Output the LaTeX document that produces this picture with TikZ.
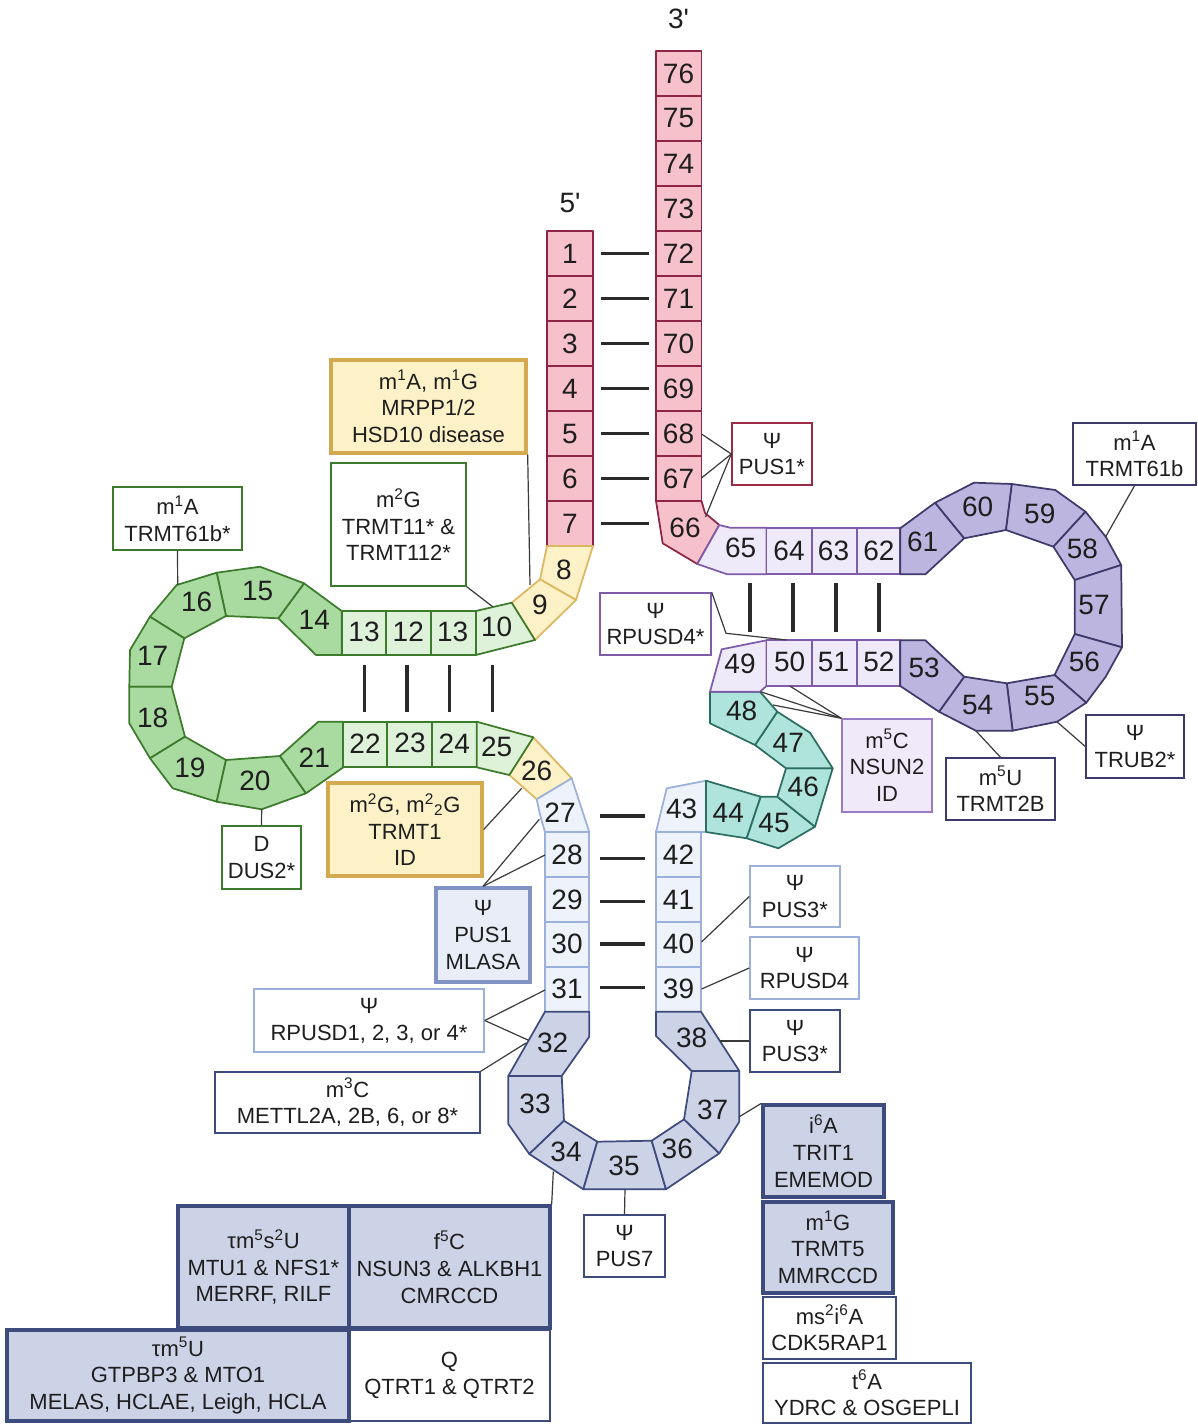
\documentclass[tikz,border=0pt]{standalone}
\usepackage{fontspec}
\setmainfont{Liberation Sans}
\newcommand\numf{\fontsize{21}{24}\selectfont}
\newcommand\annf{\fontsize{16.5}{20}\selectfont}
\definecolor{txt}{HTML}{1E1E1E}
\definecolor{accF}{HTML}{F7C1CB}
\definecolor{accB}{HTML}{8E2446}
\definecolor{yelF}{HTML}{FDF1C8}
\definecolor{yelB}{HTML}{DDB760}
\definecolor{yelK}{HTML}{D3AA50}
\definecolor{dsF}{HTML}{DEF2DA}
\definecolor{dlF}{HTML}{A9DBA1}
\definecolor{dB}{HTML}{3D7B2C}
\definecolor{asF}{HTML}{EDF2FB}
\definecolor{asB}{HTML}{9BB0DA}
\definecolor{alF}{HTML}{CCD3E7}
\definecolor{alB}{HTML}{3E4B7D}
\definecolor{vF}{HTML}{AEE4DB}
\definecolor{vB}{HTML}{2D6E63}
\definecolor{tsF}{HTML}{EFEAF9}
\definecolor{tsB}{HTML}{7F5BAA}
\definecolor{tlF}{HTML}{BCB5DF}
\definecolor{tlB}{HTML}{3E3A6B}
\definecolor{bpC}{HTML}{2A2A2A}
\definecolor{ldC}{HTML}{3A3A3A}
\definecolor{mF}{HTML}{E8EDF8}
\definecolor{mB}{HTML}{8093C4}
\definecolor{pB}{HTML}{9B7BC8}
\definecolor{pF}{HTML}{F0E9FA}
\definecolor{rB}{HTML}{9B2A45}
\tikzset{
  sg/.style={line width=1.3pt, line join=round},
  acc/.style={sg, draw=accB, fill=accF},
  yel/.style={sg, draw=yelB, fill=yelF},
  dst/.style={sg, draw=dB, fill=dsF},
  dlp/.style={sg, draw=dB, fill=dlF},
  ast/.style={sg, draw=asB, fill=asF},
  alp/.style={sg, draw=alB, fill=alF},
  vlp/.style={sg, draw=vB, fill=vF},
  tst/.style={sg, draw=tsB, fill=tsF},
  tlp/.style={sg, draw=tlB, fill=tlF},
  num/.style={font=\numf, inner sep=0pt, text=txt},
  bp/.style={line width=2.3pt, draw=bpC},
  lead/.style={line width=0.9pt, draw=ldC},
  ann/.style={draw, line width=1.1pt, fill=white, align=center, inner sep=0pt, font=\annf, text=txt},
  annk/.style={ann, line width=2.5pt},
}
\begin{document}
\begin{tikzpicture}[x=0.75pt,y=-0.75pt]
\useasboundingbox (0,0) rectangle (1198,1424);

% ---------- acceptor stem ----------
\foreach \i in {0,...,6}{
  \draw[acc] (547,{231+45*\i}) rectangle (593,{276+45*\i});
}
\foreach \i in {0,...,9}{
  \draw[acc] (656,{51+45*\i}) rectangle (701.5,{96+45*\i});
}
\draw[acc] (656,501) -- (701.5,501) -- (705,513) -- (719.3,525) -- (697.3,564) -- (662.7,543.3) -- cycle;
\foreach \i in {0,...,6}{
  \draw[bp] (601,{253.5+45*\i}) -- (649,{253.5+45*\i});
}

% ---------- junction (yellow) ----------
\draw[yel] (547,546) -- (593,546) -- (576,600) -- (540,579.3) -- cycle;
\draw[yel] (540,579.3) -- (576,600) -- (535,640) -- (511.7,602.7) -- cycle;
\draw[yel] (533.3,737.3) -- (571.7,778.3) -- (536.7,799.3) -- (509.3,775) -- cycle;

% ---------- D arm ----------
\draw[dst] (475.7,611) -- (511.7,602.7) -- (535,640) -- (475.7,655) -- cycle;
\draw[dst] (341.7,611) rectangle (386,655);
\draw[dst] (386,611) rectangle (430.7,655);
\draw[dst] (430.7,611) rectangle (475.7,655);
\draw[dlp] (341.7,611) -- (304,583.3) -- (278.3,618.3) -- (316,655) -- (341.7,655) -- cycle;
\draw[dlp] (304,583.3) -- (260,566.7) -- (216.7,572.7) -- (226,616) -- (278.3,618.3) -- cycle;
\draw[dlp] (216.7,572.7) -- (176.7,585) -- (150,616.7) -- (184.3,638.3) -- (226,616) -- cycle;
\draw[dlp] (150,616.7) -- (130,650) -- (129.3,686.7) -- (171.7,686.7) -- (184.3,638.3) -- cycle;
\draw[dlp] (129.3,686.7) -- (129.3,723.3) -- (150,758.3) -- (185,736.7) -- (171.7,686.7) -- cycle;
\draw[dlp] (150,758.3) -- (172.7,788.3) -- (216.7,801.7) -- (226,760) -- (185,736.7) -- cycle;
\draw[dlp] (216.7,801.7) -- (261.7,809.3) -- (306,793.3) -- (280,756) -- (226,760) -- cycle;
\draw[dlp] (280,756) -- (306,793.3) -- (343.3,767.3) -- (343.3,721.7) -- (318.3,721.7) -- cycle;
\draw[dst] (343.3,721.7) rectangle (387.3,767.3);
\draw[dst] (387.3,721.7) rectangle (432.3,767.3);
\draw[dst] (432.3,721.7) rectangle (476.7,767.3);
\draw[dst] (476.7,721.7) -- (533.3,737.3) -- (509.3,775) -- (476.7,767.3) -- cycle;
\foreach \x in {364.5,407,449.5,492.7}{
  \draw[bp] (\x,665) -- (\x,712);
}

% ---------- anticodon arm ----------
\draw[ast] (536.7,799.3) -- (571.7,778.3) -- (589.3,832) -- (545,832) .. controls (540,815) .. cycle;
\foreach \i in {0,...,3}{
  \draw[ast] (545,{832+44.9*\i}) rectangle (589.3,{876.9+44.9*\i});
  \draw[ast] (656,{832+44.9*\i}) rectangle (701,{876.9+44.9*\i});
}
\draw[ast] (656,832) -- (666.7,788.3) -- (706,780.7) -- (706,832) -- cycle;
\draw[alp] (545,1011.7) -- (589.3,1011.7) -- (589.3,1036.7) -- (561.7,1076) -- (508.3,1076) -- cycle;
\draw[alp] (508.3,1076) -- (561.7,1076) -- (564,1120.7) -- (529.3,1154) -- (508.3,1124) -- cycle;
\draw[alp] (529.3,1154) -- (564,1120.7) -- (597.3,1141.7) -- (583.3,1189.3) -- cycle;
\draw[alp] (583.3,1189.3) -- (597.3,1141.7) -- (651.7,1140.7) -- (666,1189.3) -- cycle;
\draw[alp] (651.7,1140.7) -- (684,1119.3) -- (719.3,1153.3) -- (666,1189.3) -- cycle;
\draw[alp] (684,1119.3) -- (691.7,1071) -- (739.3,1071) -- (739.3,1121.7) -- (719.3,1153.3) -- cycle;
\draw[alp] (656,1011.7) -- (701,1011.7) -- (739.3,1071) -- (691.7,1071) -- (656,1036) -- cycle;
\foreach \y in {816,858.7,901.7,944,987.3}{
  \draw[bp] (600,\y) -- (645,\y);
}

% ---------- variable loop ----------
\draw[vlp] (706,780.7) -- (760.7,796.7) -- (746.7,838.3) -- (706,832) -- cycle;
\draw[vlp] (760.7,796.7) -- (777.3,796.7) -- (815,826.7) -- (778.3,848.3) -- (746.7,838.3) -- cycle;
\draw[vlp] (786,768.3) -- (832.7,768.3) -- (815,826.7) -- (777.3,796.7) -- cycle;
\draw[vlp] (777.3,711.7) -- (810,732.7) -- (832.7,768.3) -- (786,768.3) -- (755,745) -- cycle;
\draw[vlp] (710,691.7) -- (760,691.7) -- (777.3,711.7) -- (755,745) -- (710,723.3) -- cycle;

% ---------- T arm ----------
\draw[tst] (719.3,525) -- (730,527.7) -- (766.4,527.7) -- (766.4,574.3) -- (727.3,574.3) -- (697.3,564) -- cycle;
\draw[tst] (766.4,527.7) rectangle (811.8,574.3);
\draw[tst] (811.8,527.7) rectangle (856.8,574.3);
\draw[tst] (856.8,527.7) rectangle (900.2,574.3);
\draw[tst] (721.7,649.3) -- (766.4,640.3) -- (766.4,686) -- (760,691.7) -- (710,691.7) -- cycle;
\draw[tst] (766.4,640.3) rectangle (811.8,686);
\draw[tst] (811.8,640.3) rectangle (856.8,686);
\draw[tst] (856.8,640.3) rectangle (900.2,686);
\draw[tlp] (900.2,528.3) -- (935.1,502.7) -- (964.2,538.3) -- (925.4,574.3) -- (900.2,574.3) -- cycle;
\draw[tlp] (964.2,538.3) -- (935.1,502.7) -- (973.9,482.7) -- (1011.9,484) -- (1006,530) -- cycle;
\draw[tlp] (1006,530) -- (1011.9,484) -- (1055.3,490) -- (1085.5,511.7) -- (1053.4,546.7) -- cycle;
\draw[tlp] (1053.4,546.7) -- (1085.5,511.7) -- (1105.7,536.7) -- (1121.2,565) -- (1074.7,580) -- cycle;
\draw[tlp] (1074.7,580) -- (1121.2,565) -- (1122,647.3) -- (1074.7,634) -- cycle;
\draw[tlp] (1054.5,675) -- (1074.7,634) -- (1122,647.3) -- (1105.7,676.7) -- (1086.3,702.7) -- cycle;
\draw[tlp] (1006.8,683.3) -- (1054.5,675) -- (1086.3,702.7) -- (1057.2,721.7) -- (1012.6,730.7) -- cycle;
\draw[tlp] (964.2,676.7) -- (1006.8,683.3) -- (1012.6,730.7) -- (975.8,730.7) -- (939,711.7) -- cycle;
\draw[tlp] (900.2,640.3) -- (925.4,640.3) -- (964.2,676.7) -- (939,711.7) -- (900.2,686) -- cycle;
\foreach \x in {750,793,836,879}{
  \draw[bp] (\x,583) -- (\x,632);
}

% ---------- numbers ----------
\node[num] (p5) at (570,203) {5\textquotesingle};
\node[num] (p3) at (678.5,19) {3\textquotesingle};
\foreach \i in {1,...,7}{
  \node[num] (n\i) at (570,{253.5+45*(\i-1)}) {\i};
}
\foreach \i in {67,...,76}{
  \node[num] (n\i) at (678.5,{73.5+45*(76-\i)}) {\i};
}
\node[num] (n66) at (685,528.3) {66};
\node[num] (n8) at (564,570) {8};
\node[num] (n9) at (540,605) {9};
\node[num] (n10) at (496.7,626.7) {10};
\node[num] (n11) at (452.7,631.7) {13};
\node[num] (n12) at (408.3,631.7) {12};
\node[num] (n13) at (364,631.7) {13};
\node[num] (n14) at (314.3,620) {14};
\node[num] (n15) at (257.7,590.7) {15};
\node[num] (n16) at (196.7,602.3) {16};
\node[num] (n17) at (152.7,655.7) {17};
\node[num] (n18) at (152.7,717.7) {18};
\node[num] (n19) at (190,768.3) {19};
\node[num] (n20) at (255,781) {20};
\node[num] (n21) at (314.3,757.7) {21};
\node[num] (n22) at (365,743.3) {22};
\node[num] (n23) at (410,743.3) {23};
\node[num] (n24) at (454.3,743.3) {24};
\node[num] (n25) at (496.7,746.7) {25};
\node[num] (n26) at (536.7,770.7) {26};
\node[num] (n27) at (560,812.7) {27};
\node[num] (n28) at (567,854.5) {28};
\node[num] (n29) at (567,899.4) {29};
\node[num] (n30) at (567,944.3) {30};
\node[num] (n31) at (567,989.2) {31};
\node[num] (n32) at (552.7,1042.7) {32};
\node[num] (n33) at (535,1104) {33};
\node[num] (n34) at (566,1151.7) {34};
\node[num] (n35) at (624,1166) {35};
\node[num] (n36) at (677.3,1149) {36};
\node[num] (n37) at (712.7,1110) {37};
\node[num] (n38) at (691.7,1038.3) {38};
\node[num] (n39) at (678.5,989.2) {39};
\node[num] (n40) at (678.5,944.3) {40};
\node[num] (n41) at (678.5,899.4) {41};
\node[num] (n42) at (678.5,854.5) {42};
\node[num] (n43) at (681.7,809.3) {43};
\node[num] (n44) at (728.3,812.7) {44};
\node[num] (n45) at (774,822.7) {45};
\node[num] (n46) at (803.3,787.3) {46};
\node[num] (n47) at (788.3,743.3) {47};
\node[num] (n48) at (741.7,710.7) {48};
\node[num] (n49) at (740,664) {49};
\node[num] (n50) at (789.7,661.7) {50};
\node[num] (n51) at (833.5,661.7) {51};
\node[num] (n52) at (878.9,661.7) {52};
\node[num] (n53) at (924.2,668.3) {53};
\node[num] (n54) at (977.7,705) {54};
\node[num] (n55) at (1039.8,696) {55};
\node[num] (n56) at (1084.4,661.7) {56};
\node[num] (n57) at (1094,605) {57};
\node[num] (n58) at (1082.4,549.3) {58};
\node[num] (n59) at (1039.8,514) {59};
\node[num] (n60) at (977.7,507.3) {60};
\node[num] (n61) at (922.7,541.7) {61};
\node[num] (n62) at (878.9,550.5) {62};
\node[num] (n63) at (833.5,550.5) {63};
\node[num] (n64) at (789,550.5) {64};
\node[num] (n65) at (740.7,548.3) {65};

% ---------- anchor points on segments ----------
\coordinate (c9) at (530,585);
\coordinate (c10) at (492.7,606.7);
\coordinate (c16) at (177.7,585);
\coordinate (c20) at (261.7,809.3);
\coordinate (c26) at (521.7,788.3);
\coordinate (c27) at (539.3,819.3);
\coordinate (c28) at (545,855);
\coordinate (c31) at (545,990);
\coordinate (c32a) at (528,1040);
\coordinate (c32b) at (526,1043);
\coordinate (c34) at (553.3,1171.7);
\coordinate (c35) at (625,1189.3);
\coordinate (c37) at (739.3,1116.7);
\coordinate (c38) at (720,1041);
\coordinate (c39) at (701.5,989);
\coordinate (c40) at (701.5,942);
\coordinate (c48) at (773,705);
\coordinate (c49) at (760.6,691.7);
\coordinate (c50b) at (789.7,686);
\coordinate (c50t) at (786.7,640);
\coordinate (k50) at (726,633.3);
\coordinate (c54) at (975.8,730.7);
\coordinate (c55) at (1057.2,722);
\coordinate (c58) at (1105.7,536.7);
\coordinate (c66) at (705.5,517);
\coordinate (c67) at (701.5,478);
\coordinate (c68) at (701.5,434);

% ---------- annotation boxes ----------
\node[annk, draw=yelK, fill=yelF, minimum width=146.25pt, minimum height=69.75pt] (a1) at (428.5,406.5) {m\textsuperscript{1}A, m\textsuperscript{1}G\\MRPP1/2\\HSD10 disease};
\node[ann, draw=dB, minimum width=101.25pt, minimum height=92.25pt] (a2) at (398.5,524.5) {m\textsuperscript{2}G\\TRMT11* \&\\TRMT112*};
\node[ann, draw=dB, minimum width=96.75pt, minimum height=47.25pt] (a3) at (177.5,518.5) {m\textsuperscript{1}A\\TRMT61b*};
\node[ann, draw=dB, minimum width=59.25pt, minimum height=47.25pt] (a4) at (261.5,857.5) {D\\DUS2*};
\node[annk, draw=yelK, fill=yelF, minimum width=115.5pt, minimum height=69.75pt] (a5) at (405,829.5) {m\textsuperscript{2}G, m\textsuperscript{2}\textsubscript{2}G\\TRMT1\\ID};
\node[annk, draw=mB, fill=mF, minimum width=70.5pt, minimum height=70.5pt] (a6) at (483,935) {Ψ\\PUS1\\MLASA};
\node[ann, draw=asB, minimum width=172.5pt, minimum height=47.25pt] (a7) at (369,1020.5) {Ψ\\RPUSD1, 2, 3, or 4*};
\node[ann, draw=alB, minimum width=198.75pt, minimum height=45.75pt] (a8) at (347.5,1102.5) {m\textsuperscript{3}C\\METTL2A, 2B, 6, or 8*};
\node[ann, draw=asB, minimum width=67.5pt, minimum height=45.75pt] (a9) at (795,896.5) {Ψ\\PUS3*};
\node[ann, draw=asB, minimum width=81.75pt, minimum height=46.5pt] (a10) at (804.5,968) {Ψ\\RPUSD4};
\node[ann, draw=alB, minimum width=67.5pt, minimum height=46.5pt] (a11) at (795,1041) {Ψ\\PUS3*};
\node[ann, draw=alB, minimum width=99.75pt, minimum height=46.5pt] (a14) at (829.5,1328) {ms\textsuperscript{2}i\textsuperscript{6}A\\CDK5RAP1};
\node[ann, draw=alB, minimum width=156pt, minimum height=45pt] (a15) at (867,1393) {t\textsuperscript{6}A\\YDRC \& OSGEPLI};
\node[annk, draw=alB, fill=alF, minimum width=90.75pt, minimum height=69pt] (a12) at (823.5,1151) {i\textsuperscript{6}A\\TRIT1\\EMEMOD};
\node[annk, draw=alB, fill=alF, minimum width=97.5pt, minimum height=68.25pt] (a13) at (828,1247.5) {m\textsuperscript{1}G\\TRMT5\\MMRCCD};
\node[ann, draw=alB, minimum width=60.75pt, minimum height=46.5pt] (a16) at (624.5,1246) {Ψ\\PUS7};
\node[ann, draw=alB, minimum width=150.75pt, minimum height=68.25pt] (a20) at (449.5,1375.5) {Q\\QTRT1 \& QTRT2};
\node[annk, draw=alB, fill=alF, minimum width=256.5pt, minimum height=68.25pt] (a19) at (178,1375.5) {τm\textsuperscript{5}U\\GTPBP3 \& MTO1\\MELAS, HCLAE, Leigh, HCLA};
\node[annk, draw=alB, fill=alF, minimum width=128.25pt, minimum height=91.5pt] (a17) at (263.5,1267) {τm\textsuperscript{5}s\textsuperscript{2}U\\MTU1 \& NFS1*\\MERRF, RILF};
\node[annk, draw=alB, fill=alF, minimum width=150.75pt, minimum height=91.5pt] (a18) at (449.5,1267) {f\textsuperscript{5}C\\NSUN3 \& ALKBH1\\CMRCCD};
\node[ann, draw=rB, minimum width=60pt, minimum height=46.5pt] (a21) at (772,454) {Ψ\\PUS1*};
\node[ann, draw=tsB, minimum width=83.25pt, minimum height=46.5pt] (a22) at (655.5,624) {Ψ\\RPUSD4*};
\node[ann, draw=pB, fill=pF, minimum width=67.5pt, minimum height=69.75pt] (a23) at (887,765.5) {m\textsuperscript{5}C\\NSUN2\\ID};
\node[ann, draw=tlB, minimum width=81.75pt, minimum height=46.5pt] (a24) at (1000.5,789) {m\textsuperscript{5}U\\TRMT2B};
\node[ann, draw=tlB, minimum width=73.5pt, minimum height=47.25pt] (a25) at (1135,746.5) {Ψ\\TRUB2*};
\node[ann, draw=tlB, minimum width=92.25pt, minimum height=46.5pt] (a26) at (1134.5,454) {m\textsuperscript{1}A\\TRMT61b};

% ---------- leader lines ----------
\draw[lead] (a1.south east) -- (c9);
\draw[lead] (a2.south east) -- (c10);
\draw[lead] (a3.south) -- (c16);
\draw[lead] (a4.north) -- (c20);
\draw[lead] (a5.east) -- (c26);
\draw[lead] (a6.north) -- (c27);
\draw[lead] (a6.north) -- (c28);
\draw[lead] (a7.east) -- (c31);
\draw[lead] (a7.east) -- (c32a);
\draw[lead] (a8.north east) -- (c32b);
\draw[lead] (a9.west) -- (c40);
\draw[lead] (a10.west) -- (c39);
\draw[lead] (a11.west) -- (c38);
\draw[lead] (a12.north west) -- (c37);
\draw[lead] (a16.north) -- (c35);
\draw[lead] (a18.north east) -- (c34);
\draw[lead] (a21.west) -- (c68);
\draw[lead] (a21.west) -- (c67);
\draw[lead] (a21.west) -- (c66);
\draw[lead] (a22.north east) -- (k50) -- (c50t);
\draw[lead] (a23.north west) -- (c49);
\draw[lead] (a23.north west) -- (c48);
\draw[lead] (a23.north west) -- (c50b);
\draw[lead] (a24.north) -- (c54);
\draw[lead] (a25.west) -- (c55);
\draw[lead] (a26.south) -- (c58);
\end{tikzpicture}
\end{document}
